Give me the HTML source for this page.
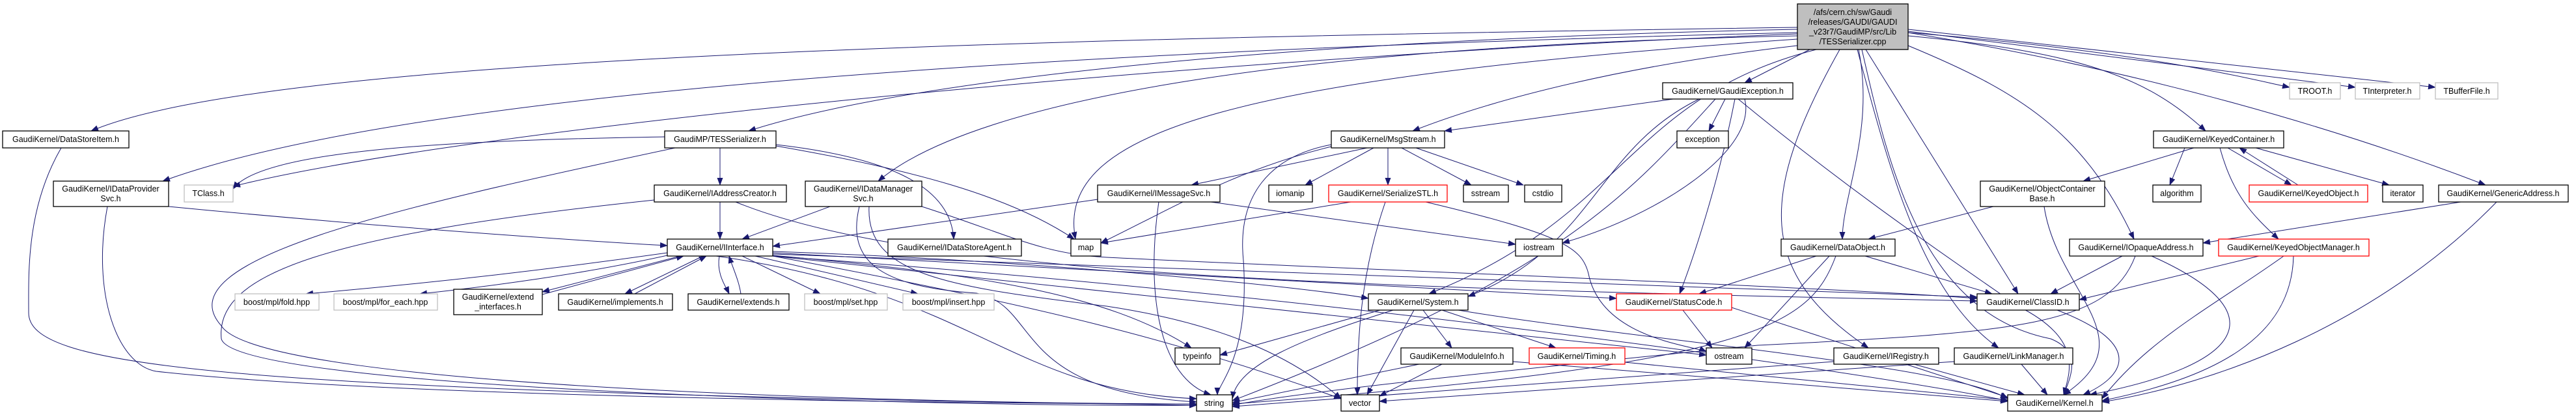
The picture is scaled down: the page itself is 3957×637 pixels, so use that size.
<!DOCTYPE html>
<html><head><meta charset="utf-8"><style>
html,body{margin:0;padding:0;background:#fff;width:3957px;height:637px;overflow:hidden}
svg text{font-family:"Liberation Sans",sans-serif;font-size:12.5px;fill:#000}
</style></head><body>
<svg width="3957" height="637" viewBox="0 0 3957 637" xmlns="http://www.w3.org/2000/svg">
<defs><marker id="a" markerUnits="userSpaceOnUse" markerWidth="12" markerHeight="9" refX="11" refY="4.5" orient="auto"><path d="M0,0 L12,4.5 L0,9 z" fill="#191970"/></marker></defs>
<g fill="none" stroke="#191970" stroke-width="1" marker-end="url(#a)">
<path d="M2761,42 C1500,60 400,90 140,201"/>
<path d="M2761,50 C1500,80 600,150 250,278"/>
<path d="M2761,52 C1800,90 700,200 358,286"/>
<path d="M2761,45 C2000,60 1400,120 1150,201"/>
<path d="M2761,55 C2000,70 1500,150 1349,278"/>
<path d="M2761,60 C1900,120 1620,200 1652,367"/>
<path d="M2761,70 C2500,100 2300,150 2170,201"/>
<path d="M2780,76 L2680,127"/>
<path d="M2790,76 C2500,150 2500,330 2195,451"/>
<path d="M2855,76 C2880,200 2830,300 2830,367"/>
<path d="M2866,76 L3100,451"/>
<path d="M2826,76 C2700,300 2700,420 2870,534"/>
<path d="M2853,76 C2900,250 2950,450 3070,534"/>
<path d="M2860,76 C2900,250 2950,480 3150,520 C3200,540 3180,580 3170,606"/>
<path d="M2931,70 C3100,140 3200,200 3278,367"/>
<path d="M2931,55 C3200,80 3300,120 3388,201"/>
<path d="M2931,50 C3300,110 3600,200 3818,284"/>
<path d="M2931,50 C3300,80 3450,120 3517,134"/>
<path d="M2931,48 L3618,134"/>
<path d="M2931,45 L3741,134"/>
<path d="M1106,227 L1106,284"/>
<path d="M1021,210 C700,215 400,230 358,290"/>
<path d="M1037,227 C600,320 250,400 340,500 C400,600 1500,620 1838,620"/>
<path d="M1192,222 C1350,240 1460,280 1465,367"/>
<path d="M1192,224 C1400,260 1550,300 1650,367"/>
<path d="M1106,310 L1106,367"/>
<path d="M1005,307 C500,360 330,420 340,520 C360,600 1500,625 1838,622"/>
<path d="M1130,310 C1400,420 2000,440 3037,462"/>
<path d="M259,317 C600,350 900,370 1025,377"/>
<path d="M165,317 C140,450 180,560 240,570 C600,610 1500,620 1838,620"/>
<path d="M94,227 C40,320 44,420 44,480 C44,560 300,600 1838,622"/>
<path d="M1275,317 L1140,367"/>
<path d="M1416,317 C1550,360 1600,390 1700,395 C2000,410 2800,440 3037,458"/>
<path d="M1320,317 C1300,400 1350,440 1500,450 C1600,470 1550,600 1838,617"/>
<path d="M1335,317 C1330,420 1450,440 1700,470 C1900,500 2000,560 2060,612"/>
<path d="M1025,388 C800,420 600,440 470,451"/>
<path d="M1025,392 C900,420 750,440 645,451"/>
<path d="M1045,393 L833,448"/>
<path d="M833,452 L1050,393"/>
<path d="M1080,393 L960,451"/>
<path d="M975,451 L1085,393"/>
<path d="M1105,393 C1100,420 1115,440 1120,451"/>
<path d="M1138,451 C1135,430 1125,410 1120,393"/>
<path d="M1140,393 L1260,451"/>
<path d="M1160,393 L1410,451"/>
<path d="M1187,390 L3037,456"/>
<path d="M1187,388 L2483,458"/>
<path d="M1187,386 C1600,400 2000,440 2102,458"/>
<path d="M1187,392 C1500,420 1700,450 1830,534"/>
<path d="M1100,393 C1500,450 1550,600 1838,612"/>
<path d="M1187,393 C1600,470 1800,520 2060,612"/>
<path d="M1187,393 C1900,470 2200,500 2621,545"/>
<path d="M1187,393 C2000,450 2800,560 3084,615"/>
<path d="M1700,304 L1187,378"/>
<path d="M1780,310 C1760,450 1780,580 1860,606"/>
<path d="M1860,310 L2328,375"/>
<path d="M2100,227 L1830,284"/>
<path d="M2110,227 L2005,284"/>
<path d="M2132,227 L2132,284"/>
<path d="M2153,227 L2260,284"/>
<path d="M2175,227 L2340,284"/>
<path d="M2045,222 C1950,240 1900,300 1910,400 C1920,550 1870,590 1870,606"/>
<path d="M2045,225 C1900,260 1800,320 1691,373"/>
<path d="M2075,310 L1691,373"/>
<path d="M2128,310 C2090,420 2085,520 2085,606"/>
<path d="M2190,310 C2400,360 2430,380 2440,420 C2460,520 2600,530 2621,540"/>
<path d="M2570,152 L2219,201"/>
<path d="M2650,152 L2625,201"/>
<path d="M2610,152 C2450,230 2450,380 2255,455"/>
<path d="M2665,152 C2640,280 2600,400 2580,451"/>
<path d="M2680,152 C2700,230 2550,330 2400,373"/>
<path d="M2635,152 C2500,300 2400,420 1893,615"/>
<path d="M2670,152 C2850,300 3000,400 3100,470 C3200,520 3180,570 3170,606"/>
<path d="M2120,476 L1874,545"/>
<path d="M2140,476 C2000,520 1900,560 1893,612"/>
<path d="M2172,476 L2100,606"/>
<path d="M2186,476 L2230,534"/>
<path d="M2215,476 L2390,534"/>
<path d="M2240,476 C2500,520 3000,560 3084,612"/>
<path d="M2180,559 L1893,618"/>
<path d="M2215,559 L2119,608"/>
<path d="M2324,555 L3084,616"/>
<path d="M2496,556 L3084,614"/>
<path d="M2585,476 L2630,534"/>
<path d="M2660,472 L3084,610"/>
<path d="M2790,393 L2610,451"/>
<path d="M2810,393 L2680,534"/>
<path d="M2865,393 L3060,451"/>
<path d="M2820,393 C2780,500 2700,560 1893,620"/>
<path d="M3062,317 L2870,367"/>
<path d="M3140,317 C3160,450 3300,520 3170,606"/>
<path d="M3160,476 C3300,530 3260,580 3200,606"/>
<path d="M2817,555 L1893,624"/>
<path d="M2940,559 L3110,606"/>
<path d="M3002,555 L2119,616"/>
<path d="M3105,559 L3145,606"/>
<path d="M3260,393 L3150,451"/>
<path d="M3280,393 C3240,500 3100,510 2700,530 C2400,560 2000,600 1893,622"/>
<path d="M3305,393 C3500,480 3450,560 3210,606"/>
<path d="M3370,227 L3200,278"/>
<path d="M3356,227 L3333,284"/>
<path d="M3422,227 L3520,284"/>
<path d="M3530,284 L3440,227"/>
<path d="M3465,227 L3670,284"/>
<path d="M3410,227 C3430,300 3460,330 3500,367"/>
<path d="M3470,393 L3194,460"/>
<path d="M3508,393 C3400,470 3300,520 3229,612"/>
<path d="M3523,393 C3520,520 3400,580 3229,615"/>
<path d="M3780,310 L3384,373"/>
<path d="M3835,310 C3650,500 3400,590 3229,617"/>
</g>
<g stroke-width="1.3" fill="#fff">
<rect x="2761" y="6" width="170" height="70" fill="#bfbfbf" stroke="#000"/>
<rect x="4" y="201" width="194" height="26" stroke="#000"/>
<rect x="82" y="278" width="177" height="39" stroke="#000"/>
<rect x="283" y="284" width="75" height="26" stroke="#bfbfbf"/>
<rect x="361" y="451" width="129" height="25" stroke="#bfbfbf"/>
<rect x="513" y="451" width="159" height="25" stroke="#bfbfbf"/>
<rect x="697" y="444" width="136" height="39" stroke="#000"/>
<rect x="858" y="451" width="175" height="25" stroke="#000"/>
<rect x="1057" y="451" width="155" height="25" stroke="#000"/>
<rect x="1236" y="451" width="127" height="25" stroke="#bfbfbf"/>
<rect x="1021" y="201" width="171" height="26" stroke="#000"/>
<rect x="1005" y="284" width="203" height="26" stroke="#000"/>
<rect x="1025" y="367" width="162" height="26" stroke="#000"/>
<rect x="1237" y="278" width="179" height="39" stroke="#000"/>
<rect x="1387" y="451" width="140" height="25" stroke="#bfbfbf"/>
<rect x="1364" y="367" width="205" height="26" stroke="#000"/>
<rect x="1645" y="367" width="46" height="26" stroke="#000"/>
<rect x="1686" y="284" width="188" height="26" stroke="#000"/>
<rect x="1949" y="284" width="67" height="26" stroke="#000"/>
<rect x="1805" y="534" width="69" height="25" stroke="#000"/>
<rect x="1838" y="606" width="55" height="25" stroke="#000"/>
<rect x="2045" y="201" width="174" height="26" stroke="#000"/>
<rect x="2041" y="284" width="182" height="26" stroke="#f00"/>
<rect x="2248" y="284" width="69" height="26" stroke="#000"/>
<rect x="2342" y="284" width="57" height="26" stroke="#000"/>
<rect x="2328" y="367" width="72" height="26" stroke="#000"/>
<rect x="2102" y="451" width="153" height="25" stroke="#000"/>
<rect x="2152" y="534" width="172" height="25" stroke="#000"/>
<rect x="2349" y="534" width="147" height="25" stroke="#f00"/>
<rect x="2483" y="451" width="177" height="25" stroke="#f00"/>
<rect x="2060" y="606" width="59" height="25" stroke="#000"/>
<rect x="2554" y="127" width="200" height="25" stroke="#000"/>
<rect x="2576" y="201" width="79" height="26" stroke="#000"/>
<rect x="2621" y="534" width="70" height="25" stroke="#000"/>
<rect x="2736" y="367" width="175" height="26" stroke="#000"/>
<rect x="3042" y="278" width="191" height="39" stroke="#000"/>
<rect x="3037" y="451" width="157" height="25" stroke="#000"/>
<rect x="2817" y="534" width="161" height="25" stroke="#000"/>
<rect x="3002" y="534" width="182" height="25" stroke="#000"/>
<rect x="3084" y="606" width="145" height="25" stroke="#000"/>
<rect x="3179" y="367" width="205" height="26" stroke="#000"/>
<rect x="3517" y="127" width="78" height="25" stroke="#bfbfbf"/>
<rect x="3618" y="127" width="99" height="25" stroke="#bfbfbf"/>
<rect x="3741" y="127" width="96" height="25" stroke="#bfbfbf"/>
<rect x="3308" y="201" width="200" height="26" stroke="#000"/>
<rect x="3307" y="284" width="74" height="26" stroke="#000"/>
<rect x="3455" y="284" width="182" height="26" stroke="#f00"/>
<rect x="3660" y="284" width="62" height="26" stroke="#000"/>
<rect x="3746" y="284" width="199" height="26" stroke="#000"/>
<rect x="3408" y="367" width="231" height="26" stroke="#f00"/>
</g>
<g text-anchor="middle">
<text x="2846" y="23">/afs/cern.ch/sw/Gaudi</text>
<text x="2846" y="38">/releases/GAUDI/GAUDI</text>
<text x="2846" y="53">_v23r7/GaudiMP/src/Lib</text>
<text x="2846" y="68">/TESSerializer.cpp</text>
<text x="101" y="218">GaudiKernel/DataStoreItem.h</text>
<text x="170" y="294">GaudiKernel/IDataProvider</text>
<text x="170" y="309">Svc.h</text>
<text x="320" y="301">TClass.h</text>
<text x="425" y="468">boost/mpl/fold.hpp</text>
<text x="592" y="468">boost/mpl/for_each.hpp</text>
<text x="765" y="460">GaudiKernel/extend</text>
<text x="765" y="475">_interfaces.h</text>
<text x="945" y="468">GaudiKernel/implements.h</text>
<text x="1134" y="468">GaudiKernel/extends.h</text>
<text x="1299" y="468">boost/mpl/set.hpp</text>
<text x="1106" y="218">GaudiMP/TESSerializer.h</text>
<text x="1106" y="301">GaudiKernel/IAddressCreator.h</text>
<text x="1106" y="384">GaudiKernel/IInterface.h</text>
<text x="1326" y="294">GaudiKernel/IDataManager</text>
<text x="1326" y="309">Svc.h</text>
<text x="1457" y="468">boost/mpl/insert.hpp</text>
<text x="1466" y="384">GaudiKernel/IDataStoreAgent.h</text>
<text x="1668" y="384">map</text>
<text x="1780" y="301">GaudiKernel/IMessageSvc.h</text>
<text x="1982" y="301">iomanip</text>
<text x="1839" y="551">typeinfo</text>
<text x="1865" y="623">string</text>
<text x="2132" y="218">GaudiKernel/MsgStream.h</text>
<text x="2132" y="301">GaudiKernel/SerializeSTL.h</text>
<text x="2282" y="301">sstream</text>
<text x="2370" y="301">cstdio</text>
<text x="2364" y="384">iostream</text>
<text x="2178" y="468">GaudiKernel/System.h</text>
<text x="2238" y="551">GaudiKernel/ModuleInfo.h</text>
<text x="2422" y="551">GaudiKernel/Timing.h</text>
<text x="2571" y="468">GaudiKernel/StatusCode.h</text>
<text x="2089" y="623">vector</text>
<text x="2654" y="144">GaudiKernel/GaudiException.h</text>
<text x="2615" y="218">exception</text>
<text x="2656" y="551">ostream</text>
<text x="2823" y="384">GaudiKernel/DataObject.h</text>
<text x="3137" y="294">GaudiKernel/ObjectContainer</text>
<text x="3137" y="309">Base.h</text>
<text x="3115" y="468">GaudiKernel/ClassID.h</text>
<text x="2897" y="551">GaudiKernel/IRegistry.h</text>
<text x="3093" y="551">GaudiKernel/LinkManager.h</text>
<text x="3156" y="623">GaudiKernel/Kernel.h</text>
<text x="3281" y="384">GaudiKernel/IOpaqueAddress.h</text>
<text x="3556" y="144">TROOT.h</text>
<text x="3667" y="144">TInterpreter.h</text>
<text x="3789" y="144">TBufferFile.h</text>
<text x="3408" y="218">GaudiKernel/KeyedContainer.h</text>
<text x="3344" y="301">algorithm</text>
<text x="3546" y="301">GaudiKernel/KeyedObject.h</text>
<text x="3691" y="301">iterator</text>
<text x="3845" y="301">GaudiKernel/GenericAddress.h</text>
<text x="3523" y="384">GaudiKernel/KeyedObjectManager.h</text>
</g>
</svg>
</body></html>
